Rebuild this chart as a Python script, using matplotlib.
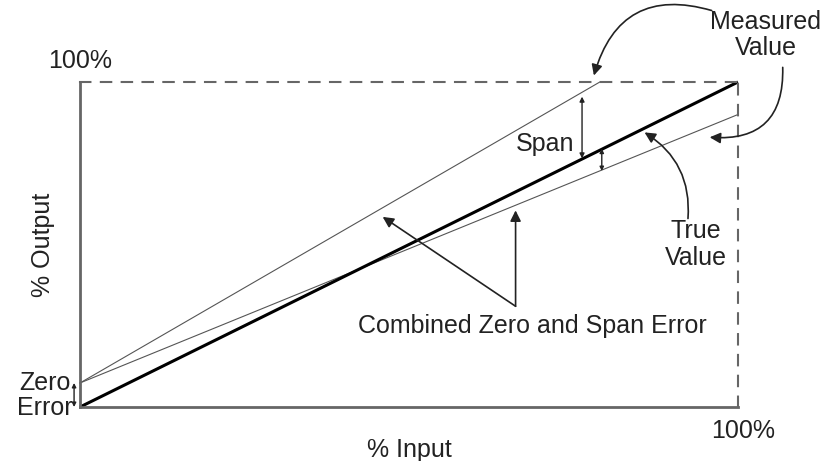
import matplotlib
matplotlib.use("Agg")
import matplotlib.pyplot as plt

plt.rcParams['font.family'] = ['Liberation Sans', 'DejaVu Sans']

# lines in % input / % output
true_x = [0, 100]
true_y = [0, 100]
zero_error = 7.4
high_x = [0, 79]            # measured value, span too large
high_y = [zero_error, 100]
low_x = [0, 100]            # measured value, span too small
low_y = [zero_error, 90]

INK = '#222222'
GREY = '#555555'

fig = plt.figure(figsize=(8.23, 4.61), dpi=100)
ax = fig.add_axes([0.0972, 0.1171, 0.7995, 0.705])
ax.set_xlim(0, 100)
ax.set_ylim(0, 100)
ax.set_xticks([])
ax.set_yticks([])

for s in ['left', 'bottom']:
    ax.spines[s].set_color('#666666')
    ax.spines[s].set_linewidth(2)
for s in ['top', 'right']:
    ax.spines[s].set_color('#666666')
    ax.spines[s].set_linewidth(1.5)
    ax.spines[s].set_linestyle((0, (5, 5)))

ax.plot(high_x, high_y, color=GREY, lw=0.8, clip_on=False)
ax.plot(low_x, low_y, color=GREY, lw=0.8, clip_on=False)
ax.plot(true_x, true_y, color='black', lw=2.2, clip_on=False, solid_capstyle='butt')

fs = 18
ax.set_xlabel('% Input', fontsize=fs, color=INK, labelpad=22)
ax.set_ylabel('% Output', fontsize=fs, color=INK, labelpad=18)
ax.text(0, 106.5, '100%', fontsize=fs, color=INK, ha='center', va='center')
ax.text(100.8, -7.5, '100%', fontsize=fs, color=INK, ha='center', va='center')
ax.text(-5.3, 3.5, 'Zero\nError', fontsize=fs, color=INK, ha='center', va='center',
        linespacing=1.05)
ax.text(70.7, 81.0, 'Span', fontsize=fs, color=INK, ha='center', va='center')
ax.text(68.8, 25.0, 'Combined Zero and Span Error', fontsize=fs, color=INK,
        ha='center', va='center')
ax.text(104.2, 114.5, 'Measured\nValue', fontsize=fs, color=INK, ha='center',
        va='center', linespacing=1.1)
ax.text(93.6, 50.0, 'True\nValue', fontsize=fs, color=INK, ha='center',
        va='center', linespacing=1.15)

def arrow(xy, xytext, style='-|>', rad=0.0, scale=16, lw=1.2):
    ax.annotate('', xy=xy, xytext=xytext, annotation_clip=False,
                arrowprops=dict(arrowstyle=style, color=INK, lw=lw,
                                mutation_scale=scale, shrinkA=0, shrinkB=0,
                                connectionstyle=f'arc3,rad={rad}'))

# double headed dimension arrows
arrow((-0.9, zero_error), (-0.9, 0), style='<|-|>', scale=6, lw=1)
arrow((76.3, 95.5), (76.3, 76.5), style='<|-|>', scale=7, lw=1)
arrow((79.3, 79.5), (79.3, 72.6), style='<|-|>', scale=6, lw=1)

# pointers
arrow((78.1, 102.0), (96.0, 122.0), rad=0.5)
arrow((95.7, 83.0), (106.8, 104.5), rad=-0.55)
arrow((85.8, 84.5), (92.4, 58.0), rad=0.3)
arrow((46.0, 58.5), (66.2, 31.0))
arrow((66.2, 60.5), (66.2, 31.0))

fig.savefig('out.png', dpi=100)
